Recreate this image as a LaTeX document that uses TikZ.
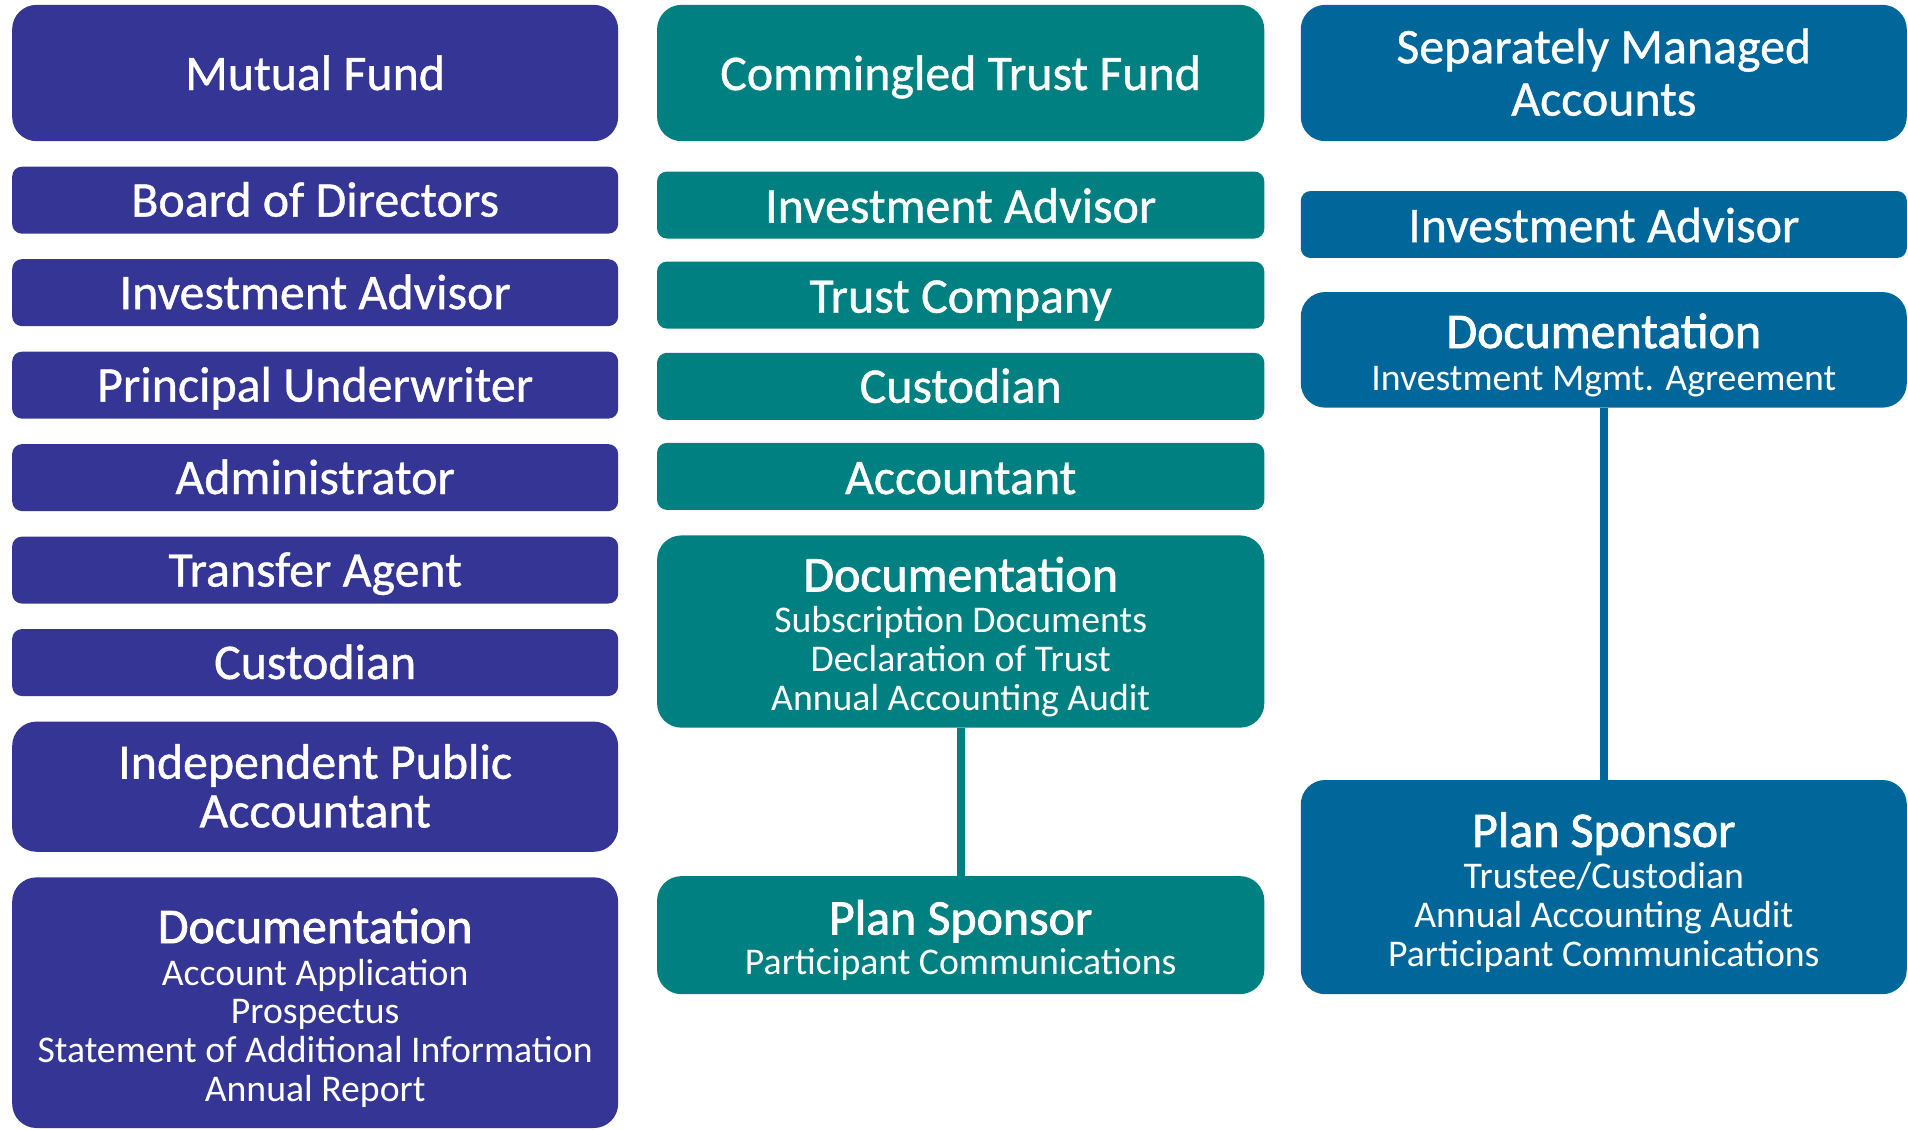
\documentclass[tikz,border=0pt]{standalone}
\usepackage{fontspec}
\setmainfont{Carlito}
\newfontfamily\medfont{Carlito}[FakeBold=0.8]
\newfontfamily\hvyfont{Carlito}[FakeBold=1.6]
\definecolor{mfc}{RGB}{53,53,150}
\definecolor{ctc}{RGB}{0,128,128}
\definecolor{smc}{RGB}{1,103,154}
\tikzset{
  bx/.style={rectangle, rounded corners=8bp, inner sep=0pt, outer sep=0pt, fill=#1},
  bigbx/.style={rounded corners=20bp},
  hd/.style={text=white, font=\medfont\fontsize{41bp}{44bp}\selectfont, anchor=base, inner sep=0pt},
  bhd/.style={text=white, font=\hvyfont\fontsize{41bp}{44bp}\selectfont, anchor=base, inner sep=0pt},
  sub/.style={text=white, font=\fontsize{31bp}{34bp}\selectfont, anchor=base, inner sep=0pt},
  link/.style={line width=6.5bp, draw=#1}
}
% name, colour, x1, y1, x2, y2, extra
\newcommand\mkbox[7]{%
  \node[bx=#2, #7, minimum width={(#5-#3)*1bp}, minimum height={(#6-#4)*1bp}]
    (#1) at ({(#3+#5)/2},{(#4+#6)/2}) {};}
\begin{document}
\begin{tikzpicture}[x=1bp,y=-1bp]
\useasboundingbox (0,0) rectangle (1568,928);
% ---------- left column: Mutual Fund ----------
\mkbox{mf}{mfc}{10}{4}{508}{116}{bigbx}
\mkbox{mfbod}{mfc}{10}{137}{508}{192}{}
\mkbox{mfia}{mfc}{10}{213}{508}{268}{}
\mkbox{mfpu}{mfc}{10}{289}{508}{344}{}
\mkbox{mfadm}{mfc}{10}{365}{508}{420}{}
\mkbox{mfta}{mfc}{10}{441}{508}{496}{}
\mkbox{mfcus}{mfc}{10}{517}{508}{572}{}
\mkbox{mfipa}{mfc}{10}{593}{508}{700}{bigbx}
\mkbox{mfdoc}{mfc}{10}{721}{508}{927}{bigbx}
\node[hd] (tmf) at (259,74) {Mutual Fund};
\node[hd] (tmfbod) at (259,178) {Board of Directors};
\node[hd] (tmfia) at (259,254) {Investment Advisor};
\node[hd] (tmfpu) at (259,330) {Principal Underwriter};
\node[hd] (tmfadm) at (259,406) {Administrator};
\node[hd] (tmfta) at (259,482) {Transfer Agent};
\node[hd] (tmfcus) at (259,558) {Custodian};
\node[hd] (tmfipa1) at (259,640) {Independent Public};
\node[hd] (tmfipa2) at (259,680) {Accountant};
\node[bhd] (tmfdoc) at (259,775) {Documentation};
\node[sub] (tmfd1) at (259,810) {Account Application};
\node[sub] (tmfd2) at (259,841) {Prospectus};
\node[sub] (tmfd3) at (259,873) {Statement of Additional Information};
\node[sub] (tmfd4) at (259,905) {Annual Report};
% ---------- middle column: Commingled Trust Fund ----------
\mkbox{ct}{ctc}{540}{4}{1039}{116}{bigbx}
\mkbox{ctia}{ctc}{540}{141}{1039}{196}{}
\mkbox{cttc}{ctc}{540}{215}{1039}{270}{}
\mkbox{ctcus}{ctc}{540}{290}{1039}{345}{}
\mkbox{ctacc}{ctc}{540}{364}{1039}{419}{}
\mkbox{ctdoc}{ctc}{540}{440}{1039}{598}{bigbx}
\mkbox{ctps}{ctc}{540}{720}{1039}{817}{bigbx}
\draw[link=ctc] (ctdoc.south) -- (ctps.north);
\node[hd] (tct) at (789.5,74) {Commingled Trust Fund};
\node[hd] (tctia) at (789.5,183) {Investment Advisor};
\node[hd] (tcttc) at (789.5,257) {Trust Company};
\node[hd] (tctcus) at (789.5,331) {Custodian};
\node[hd] (tctacc) at (789.5,406) {Accountant};
\node[bhd] (tctdoc) at (789.5,486) {Documentation};
\node[sub] (tctd1) at (789.5,520) {Subscription Documents};
\node[sub] (tctd2) at (789.5,552) {Declaration of Trust};
\node[sub] (tctd3) at (789.5,584) {Annual Accounting Audit};
\node[bhd] (tctps) at (789.5,768) {Plan Sponsor};
\node[sub] (tctp1) at (789.5,801) {Participant Communications};
% ---------- right column: Separately Managed Accounts ----------
\mkbox{sm}{smc}{1069}{4}{1567}{116}{bigbx}
\mkbox{smia}{smc}{1069}{157}{1567}{212}{}
\mkbox{smdoc}{smc}{1069}{240}{1567}{335}{bigbx}
\mkbox{smps}{smc}{1069}{641}{1567}{817}{bigbx}
\draw[link=smc] (smdoc.south) -- (smps.north);
\node[hd] (tsm1) at (1318,52) {Separately Managed};
\node[hd] (tsm2) at (1318,95) {Accounts};
\node[hd] (tsmia) at (1318,199) {Investment Advisor};
\node[bhd] (tsmdoc) at (1318,286) {Documentation};
\node[sub] (tsmd1) at (1318,321) {Investment Mgmt. Agreement};
\node[bhd] (tsmps) at (1318,696) {Plan Sponsor};
\node[sub] (tsmp1) at (1318,730) {Trustee/Custodian};
\node[sub] (tsmp2) at (1318,762) {Annual Accounting Audit};
\node[sub] (tsmp3) at (1318,794) {Participant Communications};
\end{tikzpicture}
\end{document}
